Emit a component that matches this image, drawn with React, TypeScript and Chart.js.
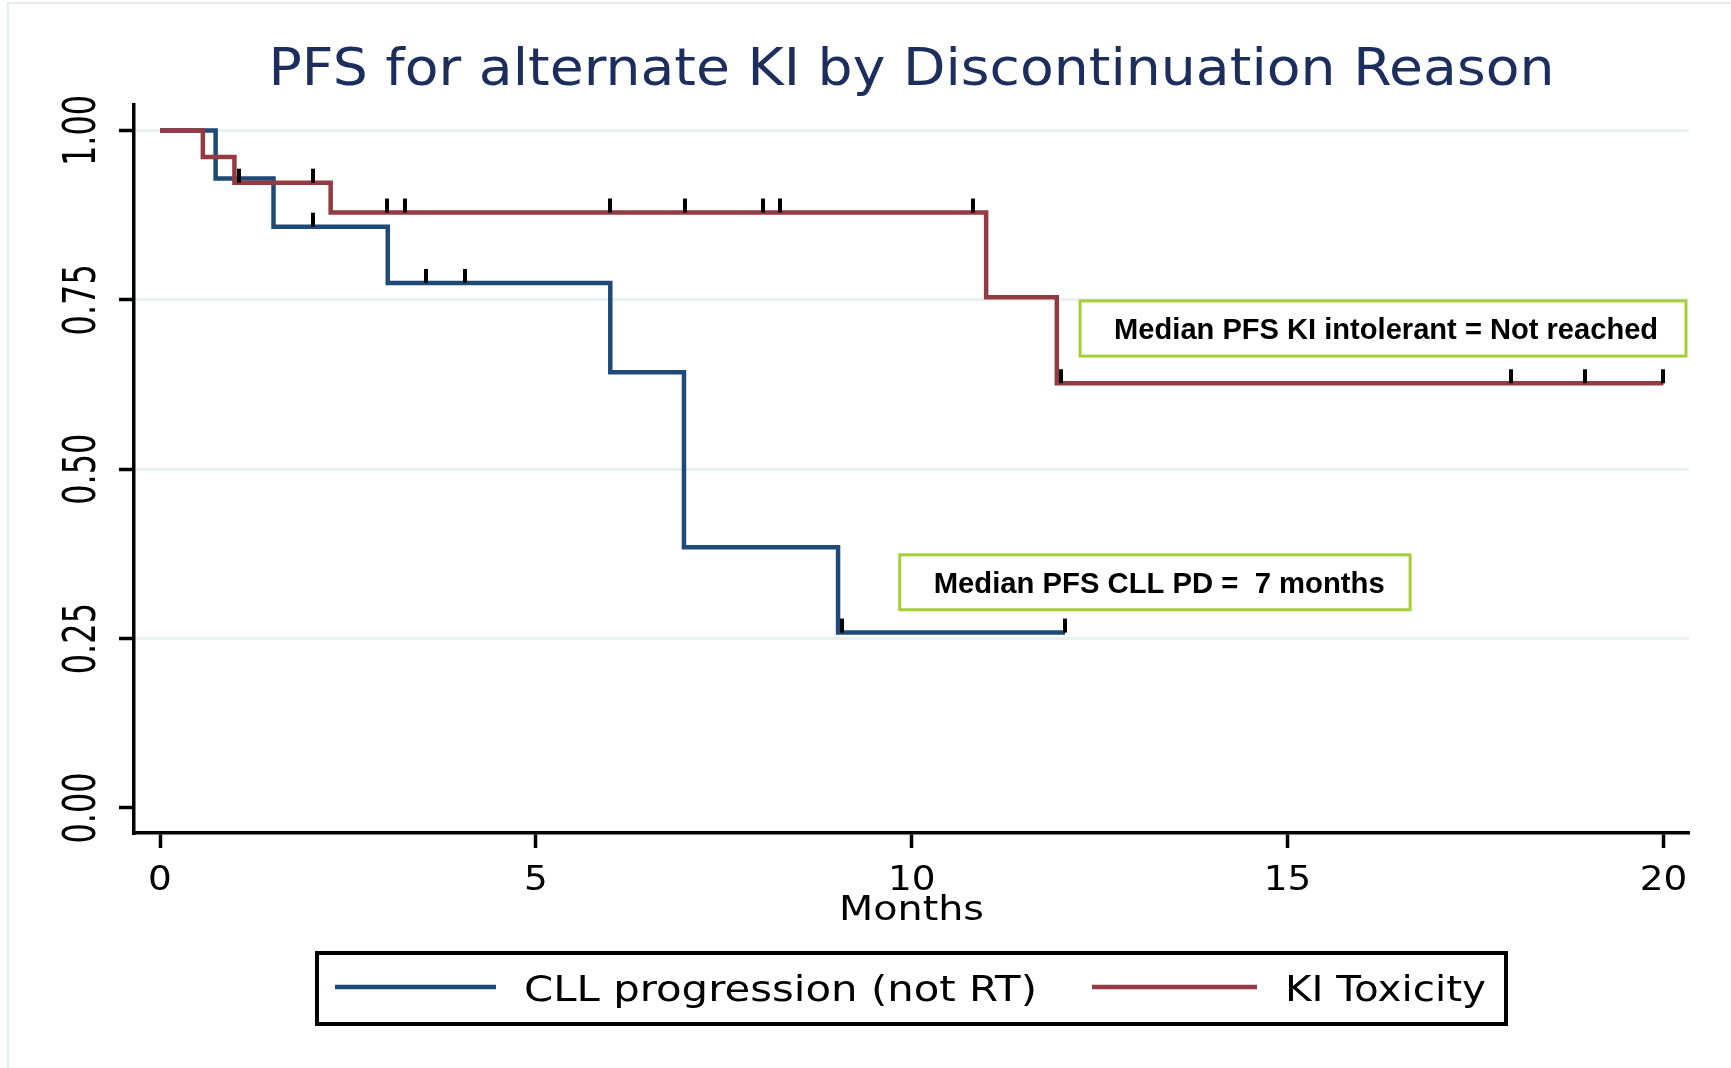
import React, { useEffect, useRef } from 'react';
import { Chart, registerables } from 'chart.js';

Chart.register(...registerables);

// ---------- data ----------
const chartTitle = 'PFS for alternate KI by Discontinuation Reason';
const xAxisTitle = 'Months';
const xTicks = [0, 5, 10, 15, 20];
const yTicks = [0, 0.25, 0.5, 0.75, 1];
const yTickLabels = ['0.00', '0.25', '0.50', '0.75', '1.00'];
const seriesNames = ['CLL progression (not RT)', 'KI Toxicity'];

// Kaplan-Meier step points (time in months, survival)
const cllTimes = [0, 0.74, 1.51, 3.03, 5.99, 6.97, 9.02, 12.04];
const cllSurv = [1, 0.929, 0.858, 0.775, 0.643, 0.385, 0.259, 0.259];
const kiTimes = [0, 0.57, 0.99, 2.27, 10.99, 11.93, 20.0];
const kiSurv = [1, 0.961, 0.923, 0.879, 0.754, 0.627, 0.627];

// censoring marks
const cllCensorTimes = [2.04, 3.54, 4.06, 9.07, 12.04];
const cllCensorSurv = [0.858, 0.775, 0.775, 0.259, 0.259];
const kiCensorTimes = [1.05, 2.04, 3.02, 3.26, 5.99, 6.98, 8.02, 8.25, 10.81, 11.98, 17.97, 18.96, 20.0];
const kiCensorSurv = [0.923, 0.923, 0.879, 0.879, 0.879, 0.879, 0.879, 0.879, 0.879, 0.627, 0.627, 0.627, 0.627];

// annotation texts
const noteKI = 'Median PFS KI intolerant = Not reached';
const noteCLL = 'Median PFS CLL PD =  7 months';

// ---------- styles ----------
const BLUE = '#1f4a78';
const RED = '#933a42';
const NAVY = '#1c2e5c';
const GRID = '#e9f1f3';
const NOTE_BORDER = '#a6ce39';

// annotation boxes in data coordinates (x from/to, y top/bottom)
const noteBoxes = [
  { text: noteKI, x0: 12.24, x1: 20.3, yTop: 0.7485, yBot: 0.667, textW: 544 },
  { text: noteCLL, x0: 9.84, x1: 16.63, yTop: 0.3737, yBot: 0.2926, textW: 451 },
];

const pts = (xs: number[], ys: number[]) => xs.map((x, i) => ({ x, y: ys[i] }));

function makeCensorImage(): HTMLCanvasElement {
  const c = document.createElement('canvas');
  c.width = 4;
  c.height = 30;
  const g = c.getContext('2d')!;
  g.fillStyle = '#000';
  g.fillRect(0, 1, 4, 14);
  return c;
}

function drawText(
  ctx: CanvasRenderingContext2D,
  text: string,
  x: number,
  y: number,
  font: string,
  color: string,
  opts: { align?: CanvasTextAlign; targetW?: number; sx?: number; sy?: number } = {}
) {
  ctx.save();
  ctx.font = font;
  ctx.fillStyle = color;
  ctx.textBaseline = 'alphabetic';
  ctx.textAlign = opts.align || 'center';
  let sx = opts.sx || 1;
  if (opts.targetW) sx = opts.targetW / ctx.measureText(text).width;
  ctx.translate(x, y);
  ctx.scale(sx, opts.sy || 1);
  ctx.fillText(text, 0, 0);
  ctx.restore();
}

const decorPlugin = {
  id: 'decor',
  afterDraw(chart: any) {
    const ctx: CanvasRenderingContext2D = chart.ctx;
    const xs = chart.scales.x;
    const ys = chart.scales.y;
    const area = chart.chartArea;
    const cx = (area.left + area.right) / 2;

    // outer light frame
    ctx.save();
    ctx.strokeStyle = '#e4ecef';
    ctx.lineWidth = 2;
    ctx.beginPath();
    ctx.moveTo(8, 1068);
    ctx.lineTo(8, 3);
    ctx.lineTo(1731, 3);
    ctx.stroke();
    ctx.restore();

    // title
    drawText(ctx, chartTitle, cx, 85, '51px "DejaVu Sans"', NAVY, { targetW: 1286 });

    // x tick labels
    xTicks.forEach((v) => {
      drawText(ctx, String(v), xs.getPixelForValue(v), 890, '34px "DejaVu Sans"', '#000', { sx: 1.1 });
    });
    // x axis title
    drawText(ctx, xAxisTitle, cx, 920, '34.5px "DejaVu Sans"', '#000', { targetW: 145 });

    // y tick labels (rotated)
    yTicks.forEach((v, i) => {
      const py = ys.getPixelForValue(v);
      ctx.save();
      ctx.translate(95, py);
      ctx.rotate(-Math.PI / 2);
      ctx.scale(1, 1.36);
      ctx.font = '32px "DejaVu Sans"';
      ctx.fillStyle = '#000';
      ctx.textAlign = 'center';
      ctx.textBaseline = 'alphabetic';
      ctx.fillText(yTickLabels[i], 0, 0);
      ctx.restore();
    });

    // annotation boxes
    noteBoxes.forEach((b) => {
      const l = xs.getPixelForValue(b.x0);
      const r = xs.getPixelForValue(b.x1);
      const t = ys.getPixelForValue(b.yTop);
      const bt = ys.getPixelForValue(b.yBot);
      ctx.save();
      ctx.fillStyle = '#fff';
      ctx.fillRect(l, t, r - l, bt - t);
      ctx.strokeStyle = NOTE_BORDER;
      ctx.lineWidth = 3;
      ctx.strokeRect(l, t, r - l, bt - t);
      ctx.restore();
      drawText(ctx, b.text, l + 34, t + 38, 'bold 29px "Liberation Sans"', '#000', {
        align: 'left',
        targetW: b.textW,
      });
    });

    // legend
    ctx.save();
    ctx.strokeStyle = '#000';
    ctx.lineWidth = 4;
    ctx.strokeRect(317, 953, 1506 - 317, 1024 - 953);
    ctx.lineWidth = 4.5;
    ctx.strokeStyle = BLUE;
    ctx.beginPath();
    ctx.moveTo(335, 987);
    ctx.lineTo(496, 987);
    ctx.stroke();
    ctx.strokeStyle = RED;
    ctx.beginPath();
    ctx.moveTo(1092, 987);
    ctx.lineTo(1257, 987);
    ctx.stroke();
    ctx.restore();
    drawText(ctx, seriesNames[0], 524, 1001, '35px "DejaVu Sans"', '#000', { align: 'left', targetW: 513 });
    drawText(ctx, seriesNames[1], 1285, 1001, '35px "DejaVu Sans"', '#000', { align: 'left', targetW: 201 });
  },
};

export default function App() {
  const ref = useRef<HTMLCanvasElement | null>(null);

  useEffect(() => {
    if (!ref.current) return;
    const censorImg = makeCensorImage();
    const chart = new Chart(ref.current, {
      type: 'line',
      data: {
        datasets: [
          {
            type: 'scatter',
            label: 'cll-censor',
            data: pts(cllCensorTimes, cllCensorSurv),
            pointStyle: censorImg as any,
            pointRadius: 5,
            showLine: false,
            order: 0,
          },
          {
            type: 'scatter',
            label: 'ki-censor',
            data: pts(kiCensorTimes, kiCensorSurv),
            pointStyle: censorImg as any,
            pointRadius: 5,
            showLine: false,
            order: 0,
          },
          {
            type: 'line',
            label: seriesNames[1],
            data: pts(kiTimes, kiSurv),
            stepped: 'before',
            borderColor: RED,
            borderWidth: 4.5,
            pointRadius: 0,
            fill: false,
            order: 1,
          },
          {
            type: 'line',
            label: seriesNames[0],
            data: pts(cllTimes, cllSurv),
            stepped: 'before',
            borderColor: BLUE,
            borderWidth: 4.5,
            pointRadius: 0,
            fill: false,
            order: 2,
          },
        ] as any,
      },
      options: {
        responsive: false,
        animation: false,
        devicePixelRatio: 1,
        layout: { padding: { left: 119, right: 42, top: 105, bottom: 220 } },
        plugins: {
          legend: { display: false },
          title: { display: false },
          tooltip: { enabled: false },
        },
        scales: {
          x: {
            type: 'linear',
            min: -0.346,
            max: 20.34,
            afterBuildTicks: (s: any) => {
              s.ticks = xTicks.map((v) => ({ value: v }));
            },
            ticks: { display: false },
            grid: {
              drawOnChartArea: false,
              drawTicks: true,
              tickLength: 15,
              tickWidth: 3.5,
              tickColor: '#000',
              color: 'rgba(0,0,0,0)',
            },
            border: { display: true, color: '#000', width: 3.5 },
          },
          y: {
            type: 'linear',
            min: -0.0369,
            max: 1.0376,
            afterBuildTicks: (s: any) => {
              s.ticks = yTicks.map((v) => ({ value: v }));
            },
            ticks: { display: false },
            grid: {
              drawOnChartArea: true,
              drawTicks: true,
              tickLength: 15,
              tickWidth: 3.5,
              tickColor: '#000',
              lineWidth: 3,
              color: (c: any) => (c.tick && c.tick.value === 0 ? 'rgba(0,0,0,0)' : GRID),
            },
            border: { display: true, color: '#000', width: 3.5 },
          },
        },
      },
      plugins: [decorPlugin],
    });
    return () => chart.destroy();
  }, []);

  return (
    <div style={{ position: 'absolute', left: 0, top: 0, width: 1731, height: 1068, background: '#fff' }}>
      <canvas ref={ref} width={1731} height={1068} style={{ display: 'block' }} />
    </div>
  );
}
